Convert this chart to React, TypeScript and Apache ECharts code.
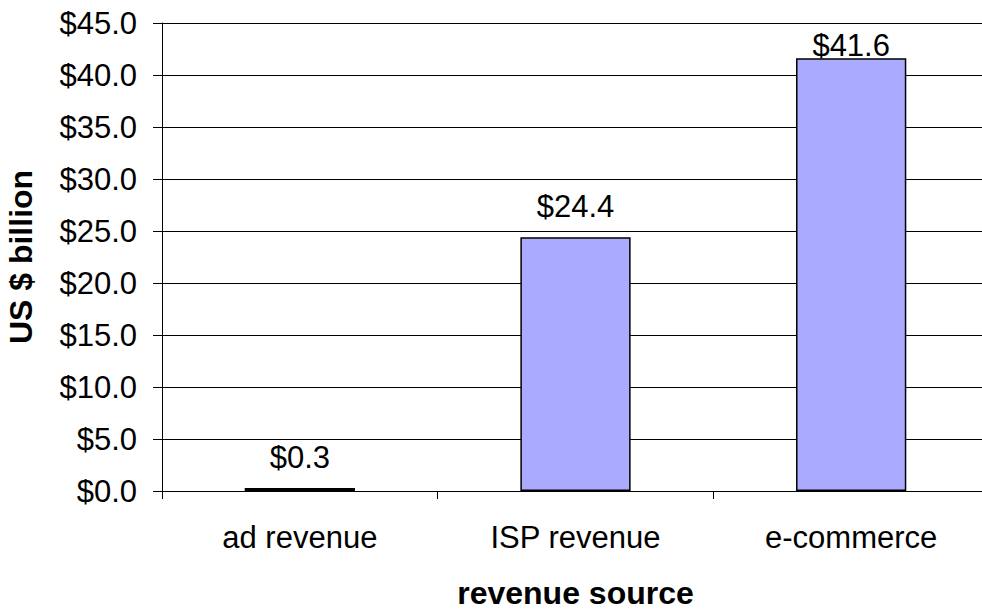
import React, { useEffect, useRef } from "react";
import * as echarts from "echarts";

const categories = ["ad revenue", "ISP revenue", "e-commerce"];
const values = [0.3, 24.4, 41.6];
const yTicks = { min: 0, max: 45, interval: 5 };
// label gap above each bar (the top label sits closer because of the plot top)
const labelGaps = [15, 15, -3];

export default function App() {
  const ref = useRef<HTMLDivElement>(null);
  useEffect(() => {
    const chart = echarts.init(ref.current!, null, { renderer: "svg" });
    const font = "'Liberation Sans', Arial, sans-serif";
    chart.setOption({
      animation: false,
      backgroundColor: "#ffffff",
      grid: {
        left: 162,
        right: -7,
        top: 23,
        bottom: 121,
        containLabel: false,
        outerBoundsMode: "none",
      },
      xAxis: {
        type: "category",
        data: categories,
        name: "revenue source",
        nameLocation: "middle",
        nameGap: 86,
        nameTextStyle: { fontFamily: font, fontSize: 32, fontWeight: "bold", color: "#000" },
        axisLine: { show: true, lineStyle: { color: "#000", width: 1 } },
        axisTick: { show: true, length: 8, alignWithLabel: false, lineStyle: { color: "#000" } },
        axisLabel: { fontFamily: font, fontSize: 31, color: "#000", margin: 31 },
      },
      yAxis: {
        type: "value",
        min: yTicks.min,
        max: yTicks.max,
        interval: yTicks.interval,
        name: "US $ billion",
        nameLocation: "middle",
        nameGap: 125,
        nameTextStyle: { fontFamily: font, fontSize: 32, fontWeight: "bold", color: "#000" },
        axisLine: { show: true, lineStyle: { color: "#000", width: 1 } },
        axisTick: { show: true, length: 9, lineStyle: { color: "#000" } },
        axisLabel: {
          fontFamily: font,
          fontSize: 31,
          color: "#000",
          margin: 25,
          formatter: (v: number) => "$" + v.toFixed(1),
        },
        splitLine: { show: true, lineStyle: { color: "#000", width: 1 } },
      },
      series: [
        {
          type: "bar",
          data: values.map((v, i) => ({ value: v, label: { distance: labelGaps[i] } })),
          barWidth: "40%",
          itemStyle: { color: "#aaaaff", borderColor: "#000", borderWidth: 1.5 },
          label: {
            show: true,
            position: "top",
            distance: 15,
            fontFamily: font,
            fontSize: 31,
            color: "#000",
            formatter: (p: any) => "$" + Number(p.value).toFixed(1),
          },
        },
      ],
    });
    return () => chart.dispose();
  }, []);
  return (
    <div
      ref={ref}
      style={{ position: "fixed", left: 0, top: 0, width: 982, height: 612 }}
    />
  );
}
